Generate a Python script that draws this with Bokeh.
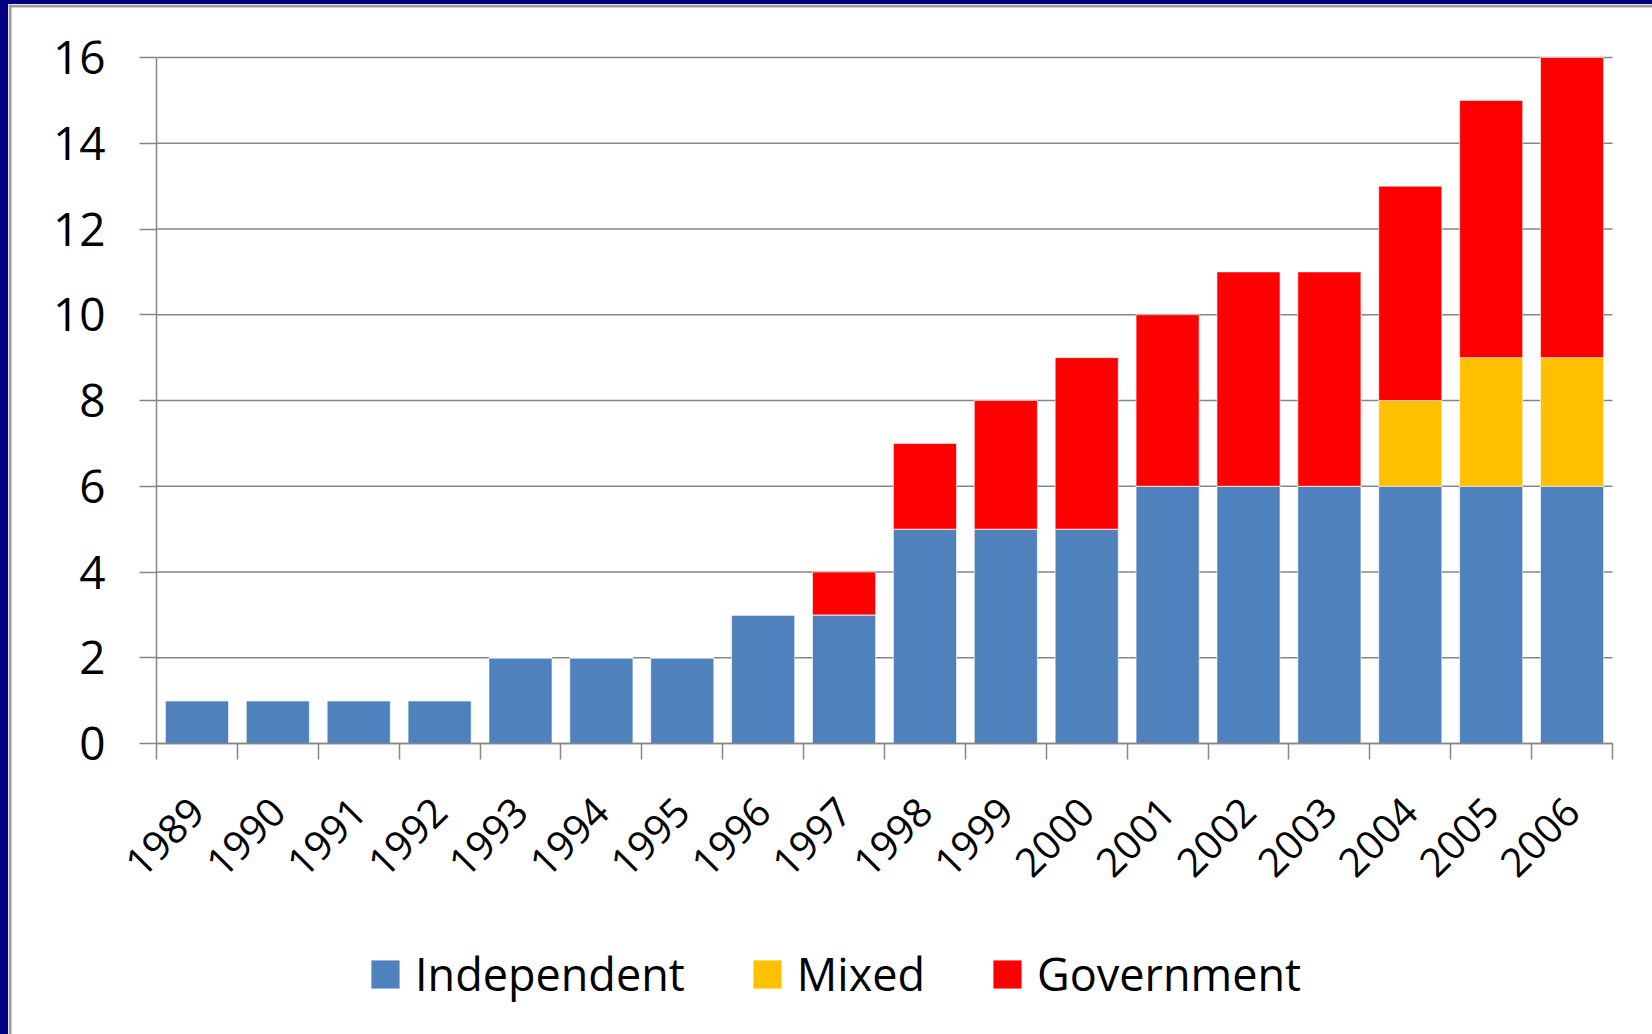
import math
from bokeh.plotting import figure
from bokeh.models import ColumnDataSource, FixedTicker, Legend, LegendItem, InlineStyleSheet, Span
from bokeh.embed import file_html
from bokeh.resources import INLINE

# ---- data ----
years = ["1989", "1990", "1991", "1992", "1993", "1994", "1995", "1996", "1997",
         "1998", "1999", "2000", "2001", "2002", "2003", "2004", "2005", "2006"]
independent = [1, 1, 1, 1, 2, 2, 2, 3, 3, 5, 5, 5, 6, 6, 6, 6, 6, 6]
mixed = [0, 0, 0, 0, 0, 0, 0, 0, 0, 0, 0, 0, 0, 0, 0, 2, 3, 3]
government = [0, 0, 0, 0, 0, 0, 0, 0, 1, 2, 3, 4, 4, 5, 5, 5, 6, 7]
series_names = ["Independent", "Mixed", "Government"]
series_colors = ["#4F81BD", "#FFC000", "#FF0000"]
y_ticks = [0, 2, 4, 6, 8, 10, 12, 14, 16]

FONT = "Open Sans"
GRID = "#868686"

x = list(range(len(years)))
source = ColumnDataSource(dict(x=x, Independent=independent, Mixed=mixed, Government=government))

frame_css = InlineStyleSheet(css=":host { box-sizing: content-box; border-left: 8px solid #000080; border-top: 4px solid #000080; }")

# ---- layout (canvas pixels) ----
CANVAS_W, CANVAS_H = 1652, 1034
PLOT_L, PLOT_R = 148, 1604     # value-area left / right edge
PLOT_T, PLOT_B = 53, 739       # value-area top / bottom edge
x_lo, x_hi = -0.5, len(years) - 0.5
y_lo, y_hi = 0, max(y_ticks)
ppx = (PLOT_R - PLOT_L) / (x_hi - x_lo)
ppy = (PLOT_B - PLOT_T) / (y_hi - y_lo)
x_range = (x_lo - PLOT_L / ppx, x_hi + (CANVAS_W - PLOT_R) / ppx)
y_range = (y_lo - (CANVAS_H - PLOT_B) / ppy, y_hi + PLOT_T / ppy)

p = figure(width=1644, height=1030, x_range=x_range, y_range=y_range,
           output_backend="svg", toolbar_location=None,
           min_border_left=0, min_border_top=0, min_border_right=0, min_border_bottom=0,
           stylesheets=[frame_css])
p.outline_line_color = None
p.background_fill_color = "white"
p.border_fill_color = "white"
p.xgrid.visible = False
p.ygrid.visible = False

# horizontal gridlines across the value area
p.segment(x0=x_lo, x1=x_hi, y0=y_ticks, y1=y_ticks, line_color=GRID, line_width=1.5)

renderers = p.vbar_stack(series_names, x="x", width=0.78, source=source,
                         fill_color=series_colors, line_color="white", line_width=1, line_alpha=0.6)

# y axis at the left edge of the value area
p.yaxis.fixed_location = x_lo
p.yaxis.bounds = (y_lo, y_hi)
p.yaxis.ticker = FixedTicker(ticks=y_ticks)
p.yaxis.axis_line_color = GRID
p.yaxis.axis_line_width = 1.5
p.yaxis.major_tick_line_color = GRID
p.yaxis.major_tick_line_width = 1.5
p.yaxis.major_tick_out = 17
p.yaxis.major_tick_in = 0
p.yaxis.minor_tick_line_color = None
p.yaxis.major_label_text_font = FONT
p.yaxis.major_label_text_font_size = "46px"
p.yaxis.major_label_text_color = "black"
p.yaxis.major_label_standoff = 34

# x axis at value 0: labels at centres, tick marks at category boundaries
p.xaxis.fixed_location = y_lo
p.xaxis.bounds = (x_lo, x_hi)
p.xaxis.ticker = FixedTicker(ticks=x, minor_ticks=[i - 0.5 for i in range(len(years) + 1)])
p.xaxis.major_label_overrides = {i: y for i, y in zip(x, years)}
p.xaxis.axis_line_color = GRID
p.xaxis.axis_line_width = 1.5
p.xaxis.major_tick_line_color = None
p.xaxis.major_tick_out = 0
p.xaxis.major_tick_in = 0
p.xaxis.minor_tick_line_color = GRID
p.xaxis.minor_tick_line_width = 1.5
p.xaxis.minor_tick_out = 16
p.xaxis.minor_tick_in = 0
p.xaxis.major_label_orientation = math.pi / 4
p.xaxis.major_label_text_font = FONT
p.xaxis.major_label_text_font_size = "40px"
p.xaxis.major_label_text_color = "black"
p.xaxis.major_label_standoff = 45

legend = Legend(items=[LegendItem(label=n, renderers=[r]) for n, r in zip(series_names, renderers)],
                orientation="horizontal", location=(359, 34),
                glyph_width=36, glyph_height=36, label_standoff=12, spacing=64,
                label_text_font=FONT, label_text_font_size="45px", label_text_color="black",
                border_line_color=None, background_fill_alpha=0, padding=0, margin=0)
p.add_layout(legend, "center")

# thin grey bevel inside the navy frame
p.add_layout(Span(location=1.5, dimension="height", location_units="screen", line_color="#9a9a9a", line_width=3))
p.add_layout(Span(location=CANVAS_H - 1.5, dimension="width", location_units="screen", line_color="#9a9a9a", line_width=3))

open("out.html", "w").write(file_html(p, INLINE))
